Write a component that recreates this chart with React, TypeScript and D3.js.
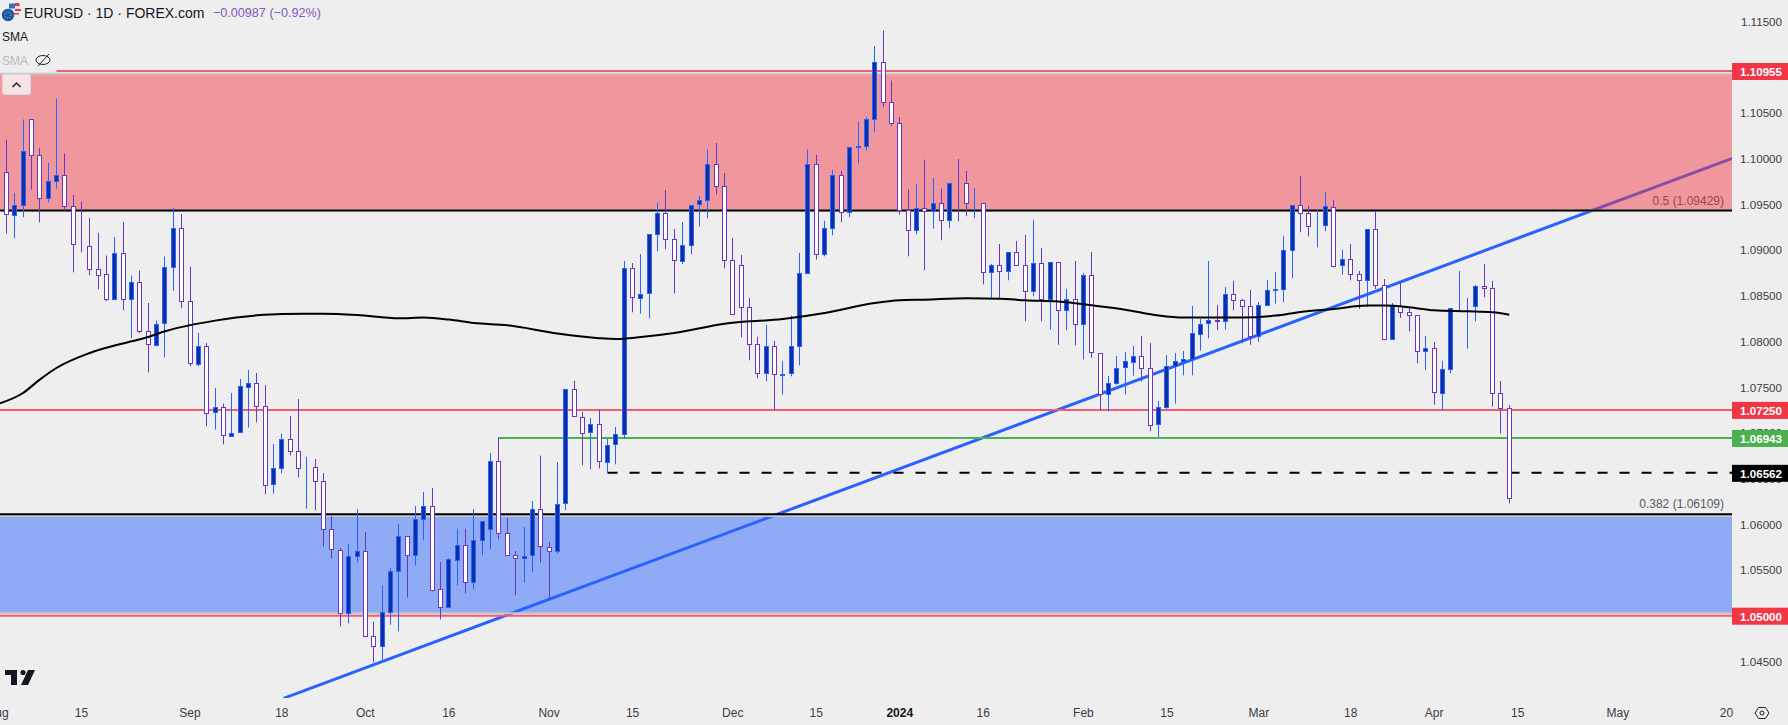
import { useEffect, useRef } from "react";
import * as d3 from "d3";

const opens = [
  1.09841, 1.09381, 1.09491, 1.1042, 1.10026, 1.09556, 1.09742, 1.09808, 1.09469, 1.09053,
  1.09039, 1.08787, 1.08725, 1.08455, 1.08955, 1.08455, 1.08638, 1.08102, 1.0796, 1.08189,
  1.08802, 1.09228, 1.0843, 1.07752, 1.07945, 1.07216, 1.07271, 1.06965, 1.06997, 1.07501,
  1.07544, 1.07289, 1.06429, 1.06604, 1.06921, 1.0679, 1.0661, 1.06615, 1.06462, 1.05937,
  1.05718, 1.05029, 1.05652, 1.05707, 1.04778, 1.04668, 1.0504, 1.05488, 1.05871, 1.05663,
  1.06057, 1.06199, 1.05281, 1.05084, 1.05609, 1.05769, 1.05368, 1.05827, 1.05948, 1.06691,
  1.05904, 1.05663, 1.05631, 1.05652, 1.06156, 1.05751, 1.05707, 1.06221, 1.07468, 1.07172,
  1.06997, 1.07085, 1.0668, 1.06866, 1.06976, 1.08791, 1.0847, 1.08514, 1.09163, 1.09392,
  1.09108, 1.08878, 1.0905, 1.09491, 1.09534, 1.09928, 1.09688, 1.08878, 1.08824, 1.08364,
  1.0796, 1.07643, 1.07938, 1.07632, 1.07643, 1.07938, 1.08736, 1.09928, 1.08944, 1.09228,
  1.09808, 1.09403, 1.10114, 1.10125, 1.1042, 1.11043, 1.10606, 1.10376, 1.09429, 1.09206,
  1.09447, 1.09414, 1.09502, 1.09316, 1.0972, 1.0972, 1.09498, 1.09502, 1.08747, 1.08824,
  1.08758, 1.08966, 1.08824, 1.08539, 1.08846, 1.08452, 1.08856, 1.08332, 1.08452, 1.08178,
  1.08714, 1.07872, 1.07424, 1.07544, 1.07708, 1.07774, 1.07839, 1.07708, 1.07085, 1.07271,
  1.07719, 1.07774, 1.07796, 1.0808, 1.08189, 1.08222, 1.08211, 1.08507, 1.08441, 1.08375,
  1.08047, 1.08386, 1.0855, 1.08561, 1.08988, 1.0948, 1.09392, 1.09257, 1.09261, 1.09465,
  1.08824, 1.08889, 1.08725, 1.0866, 1.09217, 1.08605, 1.08014, 1.08375, 1.0831, 1.08277,
  1.07883, 1.07916, 1.07435, 1.07697, 1.08361, 1.08375, 1.08375, 1.08594, 1.08572, 1.07424,
  1.0726,
];

const closes = [
  1.09381, 1.09487, 1.10078, 1.10026, 1.09556, 1.09742, 1.09808, 1.09469, 1.0905, 1.0905,
  1.08791, 1.08725, 1.08452, 1.08955, 1.08455, 1.08638, 1.08102, 1.0796, 1.08189, 1.08802,
  1.09228, 1.0843, 1.07752, 1.07945, 1.07216, 1.07271, 1.06965, 1.06997, 1.07501, 1.07544,
  1.07289, 1.06429, 1.06604, 1.06921, 1.0679, 1.06604, 1.06615, 1.06462, 1.05937, 1.05718,
  1.05029, 1.05652, 1.05707, 1.04778, 1.04668, 1.0504, 1.05488, 1.05871, 1.05663, 1.06057,
  1.06199, 1.05281, 1.05084, 1.05609, 1.05769, 1.05368, 1.05827, 1.06035, 1.06691, 1.05904,
  1.05663, 1.05631, 1.05649, 1.06156, 1.05751, 1.05707, 1.06221, 1.07468, 1.07172, 1.06997,
  1.07085, 1.0668, 1.06866, 1.06976, 1.08791, 1.0847, 1.08517, 1.09163, 1.09392, 1.09108,
  1.08878, 1.0905, 1.09487, 1.09534, 1.09928, 1.09688, 1.08878, 1.08288, 1.08364, 1.0796,
  1.07643, 1.07938, 1.07632, 1.07639, 1.07938, 1.08736, 1.09928, 1.08944, 1.09228, 1.09808,
  1.09403, 1.10114, 1.10125, 1.1042, 1.11043, 1.10606, 1.10376, 1.09429, 1.09206, 1.09447,
  1.09414, 1.09502, 1.09316, 1.0972, 1.09717, 1.09502, 1.09502, 1.08747, 1.08824, 1.08758,
  1.08966, 1.08824, 1.08539, 1.08846, 1.08452, 1.08856, 1.08332, 1.08452, 1.08178, 1.08714,
  1.07872, 1.07424, 1.07544, 1.07708, 1.07774, 1.07839, 1.07708, 1.07085, 1.07271, 1.07719,
  1.07774, 1.07796, 1.0808, 1.08189, 1.08222, 1.08211, 1.08507, 1.08441, 1.08375, 1.08047,
  1.08386, 1.0855, 1.08561, 1.08988, 1.0948, 1.09392, 1.0925, 1.09261, 1.09469, 1.0882,
  1.08889, 1.08725, 1.0866, 1.09217, 1.08605, 1.08014, 1.08375, 1.0831, 1.08277, 1.07883,
  1.07916, 1.07435, 1.07697, 1.08361, 1.08364, 1.08379, 1.08594, 1.08572, 1.07424, 1.0726,
  1.06276,
];

const highs = [
  1.10205, 1.09622, 1.10424, 1.1042, 1.10114, 1.0995, 1.10653, 1.10052, 1.096, 1.09527,
  1.09349, 1.09184, 1.08937, 1.09141, 1.09305, 1.08718, 1.08773, 1.08419, 1.08226, 1.08926,
  1.09458, 1.09392, 1.08816, 1.08091, 1.07982, 1.0749, 1.07318, 1.07435, 1.07588, 1.07686,
  1.07654, 1.07522, 1.06877, 1.0699, 1.07183, 1.07369, 1.06735, 1.06713, 1.0656, 1.0609,
  1.0574, 1.05784, 1.06166, 1.05915, 1.04934, 1.05328, 1.05521, 1.06002, 1.05871, 1.06199,
  1.06352, 1.06396, 1.05587, 1.05631, 1.05951, 1.05951, 1.06166, 1.06035, 1.06779, 1.0695,
  1.06068, 1.05707, 1.0597, 1.06254, 1.0675, 1.05806, 1.0668, 1.07468, 1.0757, 1.07227,
  1.07162, 1.07253, 1.06932, 1.07063, 1.08878, 1.08856, 1.08955, 1.09163, 1.09513, 1.09655,
  1.09228, 1.09305, 1.09487, 1.09589, 1.10096, 1.10169, 1.09841, 1.0913, 1.08944, 1.08474,
  1.08047, 1.08178, 1.08004, 1.07785, 1.08281, 1.08966, 1.10096, 1.10037, 1.09316, 1.09873,
  1.09862, 1.10125, 1.10402, 1.10453, 1.11229, 1.11397, 1.1085, 1.10453, 1.09658, 1.09724,
  1.09986, 1.09786, 1.09669, 1.09731, 1.09994, 1.09862, 1.09677, 1.09513, 1.08846, 1.09064,
  1.08977, 1.09097, 1.09163, 1.09327, 1.0902, 1.08856, 1.08856, 1.08572, 1.08878, 1.08747,
  1.08977, 1.07872, 1.07621, 1.07839, 1.07883, 1.07949, 1.08058, 1.07982, 1.07347, 1.0785,
  1.07872, 1.07894, 1.08386, 1.08244, 1.08878, 1.08397, 1.08594, 1.0866, 1.08463, 1.08561,
  1.0843, 1.08671, 1.08758, 1.09152, 1.09491, 1.09808, 1.0948, 1.09436, 1.09633, 1.09549,
  1.09002, 1.09064, 1.08769, 1.09228, 1.09425, 1.08681, 1.08419, 1.08638, 1.08386, 1.08277,
  1.08058, 1.07993, 1.07785, 1.08361, 1.08769, 1.08474, 1.08616, 1.08846, 1.0866, 1.07566,
  1.07304,
];

const lows = [
  1.09177, 1.09126, 1.09356, 1.09658, 1.09301, 1.0952, 1.09669, 1.09429, 1.08754, 1.08973,
  1.08722, 1.08568, 1.0844, 1.0845, 1.08339, 1.08033, 1.08091, 1.07661, 1.07945, 1.07825,
  1.08554, 1.08361, 1.07726, 1.07726, 1.0707, 1.07034, 1.06874, 1.06954, 1.06997, 1.07056,
  1.07114, 1.06327, 1.06334, 1.06556, 1.06753, 1.06513, 1.0617, 1.06152, 1.05758, 1.05627,
  1.04883, 1.04916, 1.05583, 1.04778, 1.0449, 1.04519, 1.04902, 1.04829, 1.05201, 1.0555,
  1.05824, 1.05266, 1.0496, 1.05084, 1.05332, 1.05244, 1.05288, 1.0566, 1.05725, 1.05835,
  1.05663, 1.05222, 1.05361, 1.05474, 1.05583, 1.05175, 1.05682, 1.06152, 1.07172, 1.06644,
  1.066, 1.06611, 1.06562, 1.06655, 1.06936, 1.08317, 1.08302, 1.08251, 1.08984, 1.09006,
  1.08525, 1.08842, 1.08951, 1.09254, 1.09345, 1.09607, 1.08798, 1.08288, 1.08044, 1.07792,
  1.07595, 1.07562, 1.07253, 1.0742, 1.07617, 1.07737, 1.08736, 1.08893, 1.08929, 1.09159,
  1.09301, 1.09356, 1.09946, 1.10088, 1.10285, 1.10559, 1.10351, 1.09385, 1.08929, 1.0917,
  1.08776, 1.09232, 1.09104, 1.09236, 1.09312, 1.09367, 1.09345, 1.08623, 1.08455, 1.08466,
  1.08667, 1.08824, 1.08219, 1.08492, 1.08219, 1.08127, 1.07963, 1.0812, 1.07956, 1.07803,
  1.07818, 1.07253, 1.07234, 1.07526, 1.0742, 1.07624, 1.07562, 1.07016, 1.06954, 1.0726,
  1.07318, 1.07628, 1.07628, 1.07898, 1.08033, 1.0812, 1.08127, 1.08339, 1.07978, 1.07963,
  1.07993, 1.08386, 1.08412, 1.08426, 1.08689, 1.09192, 1.09148, 1.09028, 1.09203, 1.08809,
  1.08729, 1.08667, 1.08353, 1.08375, 1.08572, 1.08014, 1.08014, 1.08255, 1.08109, 1.07759,
  1.07683, 1.07307, 1.07253, 1.0765, 1.08332, 1.0792, 1.08219, 1.08481, 1.07285, 1.06994,
  1.06228,
];

const smaIndex = [
  -1, 2, 4, 6, 10, 15, 17, 19, 25, 30, 33, 38, 42, 47, 50, 53, 56, 60, 66, 71, 73, 76, 80, 86, 93,
  98, 104, 107, 110, 115, 119, 122, 126, 130, 134, 138, 141, 148, 152, 155, 159, 163, 165, 168,
  171, 175, 178, 180,
];
const smaValues = [
  1.07315, 1.07435, 1.07581, 1.07708, 1.07872, 1.08, 1.08047, 1.08109, 1.08226, 1.08284, 1.08299,
  1.08302, 1.08288, 1.08251, 1.08259, 1.08237, 1.082, 1.08175, 1.08084, 1.08033, 1.08025, 1.08047,
  1.08091, 1.08193, 1.08244, 1.0831, 1.08419, 1.08448, 1.08455, 1.0847, 1.08466, 1.08448, 1.08434,
  1.08394, 1.08346, 1.08281, 1.08259, 1.08259, 1.08281, 1.08321, 1.08353, 1.0839, 1.0839, 1.08372,
  1.08339, 1.08328, 1.08317, 1.08291,
];

const priceTicks = [1.115, 1.105, 1.1, 1.095, 1.09, 1.085, 1.08, 1.075, 1.07, 1.065, 1.06, 1.055, 1.045];
const timeLabels = ["Aug", "15", "Sep", "18", "Oct", "16", "Nov", "15", "Dec", "15", "2024", "16", "Feb", "15", "Mar", "18", "Apr", "15", "May", "20"];
const timeIndex = [-1, 9, 22, 33, 43, 53, 65, 75, 87, 97, 107, 117, 129, 139, 150, 161, 171, 181, 193, 206];

const trendIndex = [33.2, 206.7];
const trendPrices = [1.04097, 1.1];

const redLevels = [
  { price: 1.10955, from: 6 },
  { price: 1.0725, from: -2 },
  { price: 1.05, from: -2 },
];
const fibLevels = [
  { price: 1.09429, label: "0.5 (1.09429)", color: "#8f4a52" },
  { price: 1.06109, label: "0.382 (1.06109)", color: "#555a66" },
];
const tags = [
  { price: 1.10955, fill: "#f23645" },
  { price: 1.0725, fill: "#f23645" },
  { price: 1.06943, fill: "#4caf50" },
  { price: 1.06562, fill: "#000000" },
  { price: 1.05, fill: "#f23645" },
];

const width = 1788;
const height = 725;
const plotRight = 1732;
const plotBottom = 698;
const fontFamily = "'Liberation Sans', Arial, sans-serif";

export default function App() {
  const reference = useRef<SVGSVGElement>(null);

  useEffect(() => {
    d3.select(reference.current).selectAll("*").remove();
    const svg = d3.select(reference.current).attr("width", width).attr("height", height);

    const x = d3.scaleLinear().domain([0, 180]).range([6.33, 1509.3]);
    const y = d3.scaleLinear().domain([1.05, 1.10955]).range([615.7, 71]);
    const snap = (v: number) => Math.floor(v) + 0.5;

    svg.append("rect").attr("width", width).attr("height", height).attr("fill", "#eeeeee");

    svg.append("defs").append("clipPath").attr("id", "plot")
      .append("rect").attr("width", plotRight).attr("height", plotBottom);
    const plot = svg.append("g").attr("clip-path", "url(#plot)");

    // trend line goes under the zones, that is why it turns purple in the red one
    plot.append("line")
      .attr("x1", x(trendIndex[0])).attr("y1", y(trendPrices[0]))
      .attr("x2", x(trendIndex[1])).attr("y2", y(trendPrices[1]))
      .attr("stroke", "#2962ff").attr("stroke-width", 3);

    // zones
    const zones = [
      { top: 1.10925, bottom: 1.09429, fill: "rgba(242,54,69,0.48)" },
      { top: 1.0609, bottom: 1.05026, fill: "rgba(41,98,255,0.48)" },
    ];
    zones.forEach((z) => {
      plot.append("rect")
        .attr("x", -5).attr("width", plotRight + 10)
        .attr("y", y(z.top)).attr("height", y(z.bottom) - y(z.top))
        .attr("fill", z.fill).attr("stroke", "#c8c8c8").attr("stroke-width", 2);
    });

    // horizontal levels
    redLevels.forEach((l) => {
      plot.append("line")
        .attr("x1", x(l.from)).attr("x2", plotRight)
        .attr("y1", y(l.price)).attr("y2", y(l.price))
        .attr("stroke", "#f25c6b").attr("stroke-width", 2);
    });
    plot.append("line")
      .attr("x1", x(59)).attr("x2", plotRight)
      .attr("y1", y(1.06943)).attr("y2", y(1.06943))
      .attr("stroke", "#4caf50").attr("stroke-width", 2);
    plot.append("line")
      .attr("x1", x(72)).attr("x2", plotRight)
      .attr("y1", y(1.06562)).attr("y2", y(1.06562))
      .attr("stroke", "#000").attr("stroke-width", 2).attr("stroke-dasharray", "10 12");
    fibLevels.forEach((l) => {
      plot.append("line")
        .attr("x1", 0).attr("x2", plotRight)
        .attr("y1", y(l.price)).attr("y2", y(l.price))
        .attr("stroke", "#000").attr("stroke-width", 2);
      svg.append("text")
        .attr("x", 1724).attr("y", y(l.price) - 6)
        .attr("text-anchor", "end")
        .attr("font-family", fontFamily).attr("font-size", 12)
        .attr("fill", l.color)
        .text(l.label);
    });

    // candles
    const candles = plot.selectAll("g.candle")
      .data(d3.range(opens.length))
      .enter()
      .append("g")
      .attr("class", "candle");
    const isUp = (i: number) => closes[i] >= opens[i];
    candles.append("line")
      .attr("x1", (i) => snap(x(i))).attr("x2", (i) => snap(x(i)))
      .attr("y1", (i) => y(highs[i])).attr("y2", (i) => y(lows[i]))
      .attr("stroke", (i) => (isUp(i) ? "#2962ff" : "#6a37bf"))
      .attr("stroke-width", 1);
    candles.append("rect")
      .attr("x", (i) => snap(x(i)) - 2).attr("width", 4)
      .attr("y", (i) => snap(y(Math.max(opens[i], closes[i]))))
      .attr("height", (i) => Math.max(0, Math.round(Math.abs(y(opens[i]) - y(closes[i])))))
      .attr("fill", (i) => (isUp(i) ? "#0c2fa3" : "#ffffff"))
      .attr("stroke", (i) => (isUp(i) ? "#2962ff" : "#6a37bf"))
      .attr("stroke-width", 1);

    // SMA
    const smaLine = d3.line<number>()
      .x((d) => x(d))
      .y((_, i) => y(smaValues[i]))
      .curve(d3.curveMonotoneX);
    plot.append("path")
      .attr("d", smaLine(smaIndex))
      .attr("fill", "none").attr("stroke", "#000").attr("stroke-width", 2);

    // price axis
    svg.selectAll("text.tick")
      .data(priceTicks)
      .enter()
      .append("text")
      .attr("class", "tick")
      .attr("x", 1782).attr("y", (d) => y(d) + 4.5)
      .attr("text-anchor", "end")
      .attr("font-family", fontFamily).attr("font-size", 11.6)
      .attr("fill", "#3a3d46")
      .text((d) => d.toFixed(5));

    tags.forEach((t) => {
      svg.append("rect")
        .attr("x", plotRight).attr("y", y(t.price) - 8).attr("width", 56).attr("height", 17)
        .attr("fill", t.fill);
      svg.append("text")
        .attr("x", 1782).attr("y", y(t.price) + 5)
        .attr("text-anchor", "end")
        .attr("font-family", fontFamily).attr("font-size", 11.6).attr("font-weight", 700)
        .attr("fill", "#fff")
        .text(t.price.toFixed(5));
    });

    // time axis
    svg.selectAll("text.time")
      .data(timeLabels)
      .enter()
      .append("text")
      .attr("class", "time")
      .attr("x", (_, i) => x(timeIndex[i])).attr("y", 717)
      .attr("text-anchor", "middle")
      .attr("font-family", fontFamily).attr("font-size", 12)
      .attr("fill", (d) => (d === "2024" ? "#131722" : "#3a3d46"))
      .attr("font-weight", (d) => (d === "2024" ? 700 : 400))
      .text((d) => d);

    // settings hexagon
    const gear = svg.append("g").attr("transform", "translate(1762,713)");
    gear.append("path")
      .attr("d", "M-7,0 L-3.5,-5.5 L3.5,-5.5 L7,0 L3.5,5.5 L-3.5,5.5 Z")
      .attr("fill", "none").attr("stroke", "#222").attr("stroke-width", 1);
    gear.append("circle").attr("r", 2).attr("fill", "none").attr("stroke", "#222");

    // header
    const head = svg.append("g").attr("font-family", fontFamily);
    head.append("circle").attr("cx", 15).attr("cy", 9).attr("r", 6).attr("fill", "#e8e8f0");
    head.append("path").attr("d", "M15,3 h4 l1,3 h-5 Z M15,9 h6 v2 h-6 Z M11,13 h8 v1.6 h-8 Z").attr("fill", "#e0394a");
    head.append("rect").attr("x", 9).attr("y", 3.5).attr("width", 6).attr("height", 5).attr("fill", "#3c68c8");
    head.append("circle").attr("cx", 8).attr("cy", 15).attr("r", 6.2).attr("fill", "#1458a8");
    head.append("circle").attr("cx", 8).attr("cy", 15).attr("r", 3).attr("fill", "none")
      .attr("stroke", "#e9c44a").attr("stroke-width", 1).attr("stroke-dasharray", "1 1.4");
    head.append("text").attr("x", 24).attr("y", 18).attr("font-size", 14).attr("fill", "#131722")
      .text("EURUSD · 1D · FOREX.com");
    head.append("text").attr("x", 213).attr("y", 17).attr("font-size", 12.6).attr("fill", "#7e57c2")
      .text("−0.00987 (−0.92%)");
    head.append("text").attr("x", 2).attr("y", 41).attr("font-size", 12).attr("fill", "#131722").text("SMA");
    head.append("text").attr("x", 2).attr("y", 65).attr("font-size", 12).attr("fill", "#b8bac2").text("SMA");
    head.append("ellipse").attr("cx", 43).attr("cy", 60).attr("rx", 7).attr("ry", 4.5)
      .attr("fill", "none").attr("stroke", "#222").attr("stroke-width", 1);
    head.append("line").attr("x1", 38).attr("y1", 66).attr("x2", 49).attr("y2", 54)
      .attr("stroke", "#222").attr("stroke-width", 1);

    // collapse button
    head.append("rect").attr("x", 2.5).attr("y", 74.5).attr("width", 28).attr("height", 20).attr("rx", 2)
      .attr("fill", "#f4e4e5").attr("stroke", "#e2d4d5");
    head.append("path").attr("d", "M12.5,87 L16.5,83 L20.5,87")
      .attr("fill", "none").attr("stroke", "#222").attr("stroke-width", 1.5);

    // logo
    const logo = svg.append("g").attr("fill", "#131722");
    logo.append("path").attr("d", "M5,670 H17 V685 H11 V675 H5 Z");
    logo.append("circle").attr("cx", 23).attr("cy", 672.5).attr("r", 2.6);
    logo.append("path").attr("d", "M28,670 H35 L28,685 H21 Z");
  }, []);

  return <svg ref={reference} style={{ position: "absolute", left: 0, top: 0, display: "block" }}></svg>;
}
